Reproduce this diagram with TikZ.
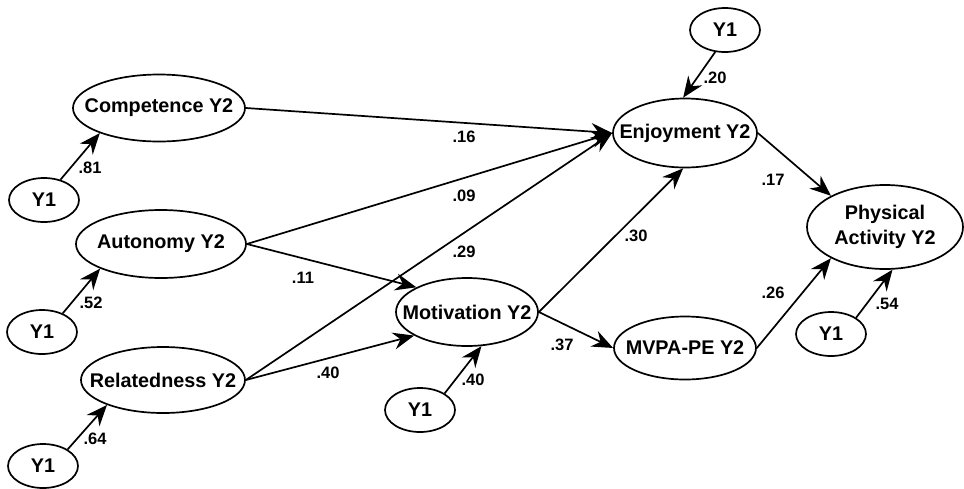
\documentclass[tikz,border=0pt]{standalone}
\usepackage{fontspec}
\setmainfont{Liberation Sans}
\usetikzlibrary{shapes.geometric,arrows.meta}
\begin{document}
\begin{tikzpicture}[x=1pt,y=-1pt,
  lat/.style={ellipse,draw,line width=1.7pt,inner sep=0pt},
  yone/.style={lat,minimum width=70pt,minimum height=44pt,label={center:Y1}},
  every label/.style={font=\fontsize{19.8}{25}\selectfont\bfseries,align=center,inner sep=0pt},
  arr/.style={line width=1.7pt,-{Stealth[length=21pt,width=17pt,inset=7pt]}},
  lbl/.style={font=\fontsize{16.5}{18}\selectfont\bfseries,inner sep=0pt}]
\useasboundingbox (0,0) rectangle (964,488);
% latent nodes
\node[lat,minimum width=172pt,minimum height=67pt,label={center:Competence Y2}] (comp) at (159,108) {};
\node[lat,minimum width=170pt,minimum height=68pt,label={center:Autonomy Y2}] (aut) at (161,244) {};
\node[lat,minimum width=164pt,minimum height=66pt,label={center:Relatedness Y2}] (rel) at (163,380) {};
\node[lat,minimum width=142pt,minimum height=68pt,label={center:Motivation Y2}] (mot) at (467,312) {};
\node[lat,minimum width=144pt,minimum height=69pt,label={center:Enjoyment Y2}] (enj) at (685,133) {};
\node[lat,minimum width=142pt,minimum height=63pt,label={center:MVPA-PE Y2}] (mvpa) at (685,348) {};
\node[lat,minimum width=156pt,minimum height=84pt,label={center:{Physical\\Activity Y2}}] (pa) at (885,227) {};
% Y1 nodes
\node[yone] (y1c) at (44,200) {};
\node[yone] (y1a) at (42,332) {};
\node[yone] (y1r) at (43,466) {};
\node[yone] (y1m) at (420,410) {};
\node[yone] (y1e) at (725,30) {};
\node[yone] (y1p) at (831,334) {};
% paths
\draw[arr] (comp.east) -- (enj.west);
\draw[arr] (aut.east) -- (enj.west);
\draw[arr] (aut.east) -- (mot.154);
\draw[arr] (rel.east) -- (enj.west);
\draw[arr] (rel.east) -- (mot.204);
\draw[arr] (mot.east) -- (enj.-93);
\draw[arr] (mot.east) -- (mvpa.west);
\draw[arr] (enj.east) -- (pa.150);
\draw[arr] (mvpa.east) -- (pa.210);
% stability paths
\draw[arr] (y1c.51) -- (comp.203);
\draw[arr] (y1a.42) -- (aut.202);
\draw[arr] (y1r.34) -- (rel.204);
\draw[arr] (y1m.34) -- (mot.293);
\draw[arr] (y1e.246) -- (enj.93);
\draw[arr] (y1p.33) -- (pa.280);
% coefficients
\node[lbl] (l81) at (90,168) {.81};
\node[lbl] (l52) at (91,303) {.52};
\node[lbl] (l64) at (95,439) {.64};
\node[lbl] (l16) at (464,137) {.16};
\node[lbl] (l09) at (464,196) {.09};
\node[lbl] (l29) at (464,252) {.29};
\node[lbl] (l11) at (303,278) {.11};
\node[lbl] (l40a) at (328,373) {.40};
\node[lbl] (l40b) at (473,380) {.40};
\node[lbl] (l30) at (636,236) {.30};
\node[lbl] (l37) at (562,345) {.37};
\node[lbl] (l20) at (715,78) {.20};
\node[lbl] (l17) at (773,180) {.17};
\node[lbl] (l26) at (773,293) {.26};
\node[lbl] (l54) at (887,304) {.54};
\end{tikzpicture}
\end{document}
